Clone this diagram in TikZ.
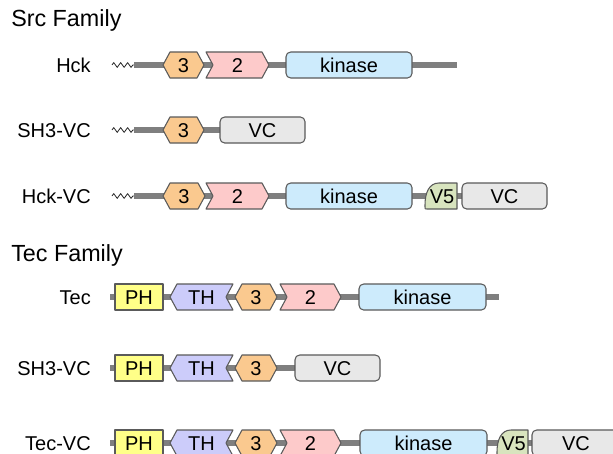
\documentclass[tikz,border=0pt]{standalone}
\usepackage{fontspec}
\setmainfont{Liberation Sans}
\usetikzlibrary{decorations.pathmorphing}
\definecolor{edge}{HTML}{5A5A5A}
\definecolor{bbgray}{HTML}{7F7F7F}
\definecolor{orangefill}{HTML}{FAC98F}
\definecolor{pinkfill}{HTML}{FDCACA}
\definecolor{bluefill}{HTML}{CDEBFC}
\definecolor{grayfill}{HTML}{E8E8E8}
\definecolor{yellowfill}{HTML}{FFFF88}
\definecolor{lavfill}{HTML}{CCCCFA}
\definecolor{greenfill}{HTML}{D8E4BE}
\tikzset{
  dom/.style={draw=edge, line width=0.8pt, line join=round},
  txt/.style={font=\fontsize{15}{18}\selectfont, inner sep=0pt, anchor=base},
  rowlbl/.style={font=\fontsize{15}{18}\selectfont, inner sep=0pt, anchor=base east},
  title/.style={font=\fontsize{17.5}{21}\selectfont, inner sep=0pt, anchor=base west},
  bb/.style={draw=bbgray, line width=3.8pt},
  zz/.style={draw=black!85, line width=0.6pt, line join=round, decorate, decoration={zigzag, amplitude=1.8pt, segment length=5.2pt}},
}
% #1 name, #2 x1, #3 x2, #4 y, #5 fill, #6 text
\newcommand\DomHex[6]{%
  \draw[dom,fill=#5] (#2,#4) -- (#2+7,#4-13) -- (#3-7,#4-13) -- (#3,#4) -- (#3-7,#4+13) -- (#2+7,#4+13) -- cycle;
  \node[txt] (#1) at ({(#2+#3)/2},#4+7) {#6};}
\newcommand\DomChev[6]{%
  \draw[dom,fill=#5] (#2,#4-13) -- (#3-7,#4-13) -- (#3,#4) -- (#3-7,#4+13) -- (#2,#4+13) -- (#2+7,#4) -- cycle;
  \node[txt] (#1) at ({(#2+#3)/2},#4+7) {#6};}
\newcommand\DomTH[6]{%
  \draw[dom,fill=#5] (#2,#4) -- (#2+7,#4-13) -- (#3,#4-13) -- (#3-7,#4) -- (#3,#4+13) -- (#2+7,#4+13) -- cycle;
  \node[txt] (#1) at ({(#2+#3)/2},#4+7) {#6};}
\newcommand\DomBox[6]{%
  \draw[dom,fill=#5,rounded corners=3.5pt] (#2,#4-13) rectangle (#3,#4+13);
  \node[txt] (#1) at ({(#2+#3)/2},#4+7) {#6};}
\newcommand\DomSq[6]{%
  \draw[dom,fill=#5] (#2,#4-13) rectangle (#3,#4+13);
  \node[txt] (#1) at ({(#2+#3)/2},#4+7) {#6};}
\newcommand\DomVF[6]{%
  \draw[dom,fill=#5] (#3,#4-13) -- (#2+14,#4-13) .. controls (#2+4,#4-13) and (#2,#4-3) .. (#2,#4+9) -- (#2,#4+11) .. controls (#2,#4+13) .. (#2+2,#4+13) -- (#3,#4+13) -- cycle;
  \node[txt] (#1) at ({(#2+#3)/2+1},#4+7) {#6};}
\begin{document}
\begin{tikzpicture}[x=0.75pt,y=-0.75pt]
\useasboundingbox (0,0) rectangle (613,453);
\clip (0,0) rectangle (613,453);
\fill[white] (0,0) rectangle (613,453);

\node[title] (srcT) at (11,27) {Src Family};
\node[title] (tecT) at (11,261) {Tec Family};

% Row 1: Hck
\node[rowlbl] (l1) at (91,72) {Hck};
\coordinate (z1a) at (112,65); \coordinate (z1b) at (134,65); \coordinate (b1e) at (457,65);
\draw[zz] (z1a) -- (z1b);
\draw[bb] (z1b) -- (b1e);
\DomHex{r1h}{163}{204}{65}{orangefill}{3}
\DomChev{r1c}{206}{269}{65}{pinkfill}{2}
\DomBox{r1k}{286}{412}{65}{bluefill}{kinase}

% Row 2: SH3-VC
\node[rowlbl] (l2) at (91,137) {SH3-VC};
\coordinate (z2a) at (112,130); \coordinate (z2b) at (134,130); \coordinate (b2e) at (222,130);
\draw[zz] (z2a) -- (z2b);
\draw[bb] (z2b) -- (b2e);
\DomHex{r2h}{163}{204}{130}{orangefill}{3}
\DomBox{r2v}{220}{305}{130}{grayfill}{VC}

% Row 3: Hck-VC
\node[rowlbl] (l3) at (91,203) {Hck-VC};
\coordinate (z3a) at (112,196); \coordinate (z3b) at (134,196); \coordinate (b3e) at (464,196);
\draw[zz] (z3a) -- (z3b);
\draw[bb] (z3b) -- (b3e);
\DomHex{r3h}{163}{205}{196}{orangefill}{3}
\DomChev{r3c}{206}{269}{196}{pinkfill}{2}
\DomBox{r3k}{286}{412}{196}{bluefill}{kinase}
\DomVF{r3f}{425}{457}{196}{greenfill}{V5}
\DomBox{r3v}{462}{547}{196}{grayfill}{VC}

% Row 4: Tec
\node[rowlbl] (l4) at (91,304) {Tec};
\coordinate (b4s) at (110,297); \coordinate (b4e) at (499,297);
\draw[bb] (b4s) -- (b4e);
\DomSq{r4p}{115}{163}{297}{yellowfill}{PH}
\DomTH{r4t}{170}{233}{297}{lavfill}{TH}
\DomHex{r4h}{235}{277}{297}{orangefill}{3}
\DomChev{r4c}{280}{341}{297}{pinkfill}{2}
\DomBox{r4k}{359}{486}{297}{bluefill}{kinase}

% Row 5: SH3-VC
\node[rowlbl] (l5) at (91,375) {SH3-VC};
\coordinate (b5s) at (110,368); \coordinate (b5e) at (297,368);
\draw[bb] (b5s) -- (b5e);
\DomSq{r5p}{115}{163}{368}{yellowfill}{PH}
\DomTH{r5t}{170}{233}{368}{lavfill}{TH}
\DomHex{r5h}{235}{277}{368}{orangefill}{3}
\DomBox{r5v}{295}{380}{368}{grayfill}{VC}

% Row 6: Tec-VC
\node[rowlbl] (l6) at (91,450) {Tec-VC};
\coordinate (b6s) at (110,443); \coordinate (b6e) at (540,443);
\draw[bb] (b6s) -- (b6e);
\DomSq{r6p}{115}{163}{443}{yellowfill}{PH}
\DomTH{r6t}{170}{233}{443}{lavfill}{TH}
\DomHex{r6h}{235}{277}{443}{orangefill}{3}
\DomChev{r6c}{280}{341}{443}{pinkfill}{2}
\DomBox{r6k}{360}{487}{443}{bluefill}{kinase}
\DomVF{r6f}{497}{528}{443}{greenfill}{V5}
\DomBox{r6v}{532}{620}{443}{grayfill}{VC}
\end{tikzpicture}
\end{document}
